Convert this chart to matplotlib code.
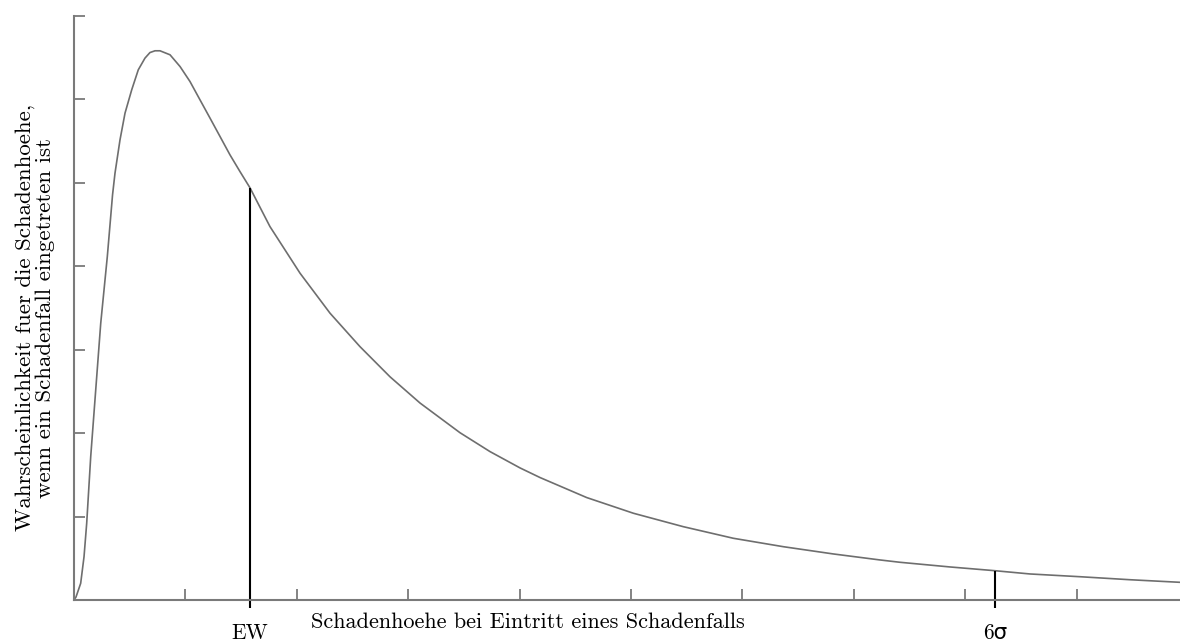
import matplotlib
matplotlib.use("Agg")
import matplotlib.pyplot as plt

# Loss-size density curve (x: loss amount, y: density), read in axis units
loss_x = [0.0, 0.018, 0.060, 0.090, 0.114, 0.150, 0.195, 0.240, 0.299, 0.346,
          0.368, 0.413, 0.458, 0.518, 0.577, 0.637, 0.682, 0.727, 0.772, 0.862,
          0.952, 1.041, 1.131, 1.221, 1.311, 1.400, 1.490, 1.580, 1.759, 2.029,
          2.298, 2.567, 2.837, 3.106, 3.465, 3.734, 4.004, 4.183, 4.602, 5.021,
          5.469, 5.918, 6.367, 6.816, 7.235, 7.415, 7.864, 8.268, 8.582, 9.031,
          9.479, 9.928]
density = [0.0, 0.036, 0.200, 0.519, 0.920, 1.718, 2.518, 3.318, 4.116, 4.856,
           5.116, 5.516, 5.836, 6.115, 6.355, 6.495, 6.562, 6.583, 6.583, 6.535,
           6.394, 6.215, 5.995, 5.776, 5.555, 5.336, 5.135, 4.940, 4.476, 3.917,
           3.438, 3.037, 2.675, 2.361, 2.005, 1.779, 1.583, 1.468, 1.228, 1.040,
           0.879, 0.740, 0.639, 0.552, 0.480, 0.452, 0.396, 0.351, 0.312, 0.279,
           0.243, 0.212]

x_ticks = [1, 2, 3, 4, 5, 6, 7, 8, 9]
y_ticks = [1, 2, 3, 4, 5, 6, 7]

# Marked positions: expected value and six sigma
marker_x = [1.58, 8.268]
marker_y = [4.94, 0.351]
marker_labels = ["EW", "6σ"]

fig = plt.figure(figsize=(11.8, 6.44), dpi=100)
ax = fig.add_axes([74 / 1180, 44 / 644, 1106 / 1180, 584 / 644])

axis_gray = "#7a7a7a"
ax.plot(loss_x, density, color="#6e6e6e", lw=1.2,
        solid_joinstyle="round", solid_capstyle="round")

ax.vlines(marker_x, -0.1, marker_y, colors="black", lw=1.5, clip_on=False)
for mx, lab in zip(marker_x, marker_labels):
    ax.annotate(lab, xy=(mx, 0), xytext=(0, -24), textcoords="offset points",
                ha="center", va="center", fontsize=15.5,
                family=["cmr10", "DejaVu Sans"])

ax.set_xlim(0, 9.928)
ax.set_ylim(0, 7)
ax.set_xticks(x_ticks)
ax.set_yticks(y_ticks)
ax.set_xticklabels([])
ax.set_yticklabels([])
ax.tick_params(direction="in", length=8, width=1.3, color=axis_gray)

for side in ("top", "right"):
    ax.spines[side].set_visible(False)
for side in ("left", "bottom"):
    ax.spines[side].set_color(axis_gray)
    ax.spines[side].set_linewidth(1.5)

ax.set_xlabel("Schadenhoehe bei Eintritt eines Schadenfalls",
              fontsize=16, family="cmr10")
ax.xaxis.set_label_coords(0.41, -0.038)
ax.xaxis.label.set_va("center")

ax.set_ylabel("Wahrscheinlichkeit fuer die Schadenhoehe,\n"
              "wenn ein Schadenfall eingetreten ist",
              fontsize=16.5, family="cmr10", linespacing=1.0)
ax.yaxis.set_label_coords(-0.0353, 0.483)
ax.yaxis.label.set_va("center")

fig.savefig("out.png", dpi=100)
